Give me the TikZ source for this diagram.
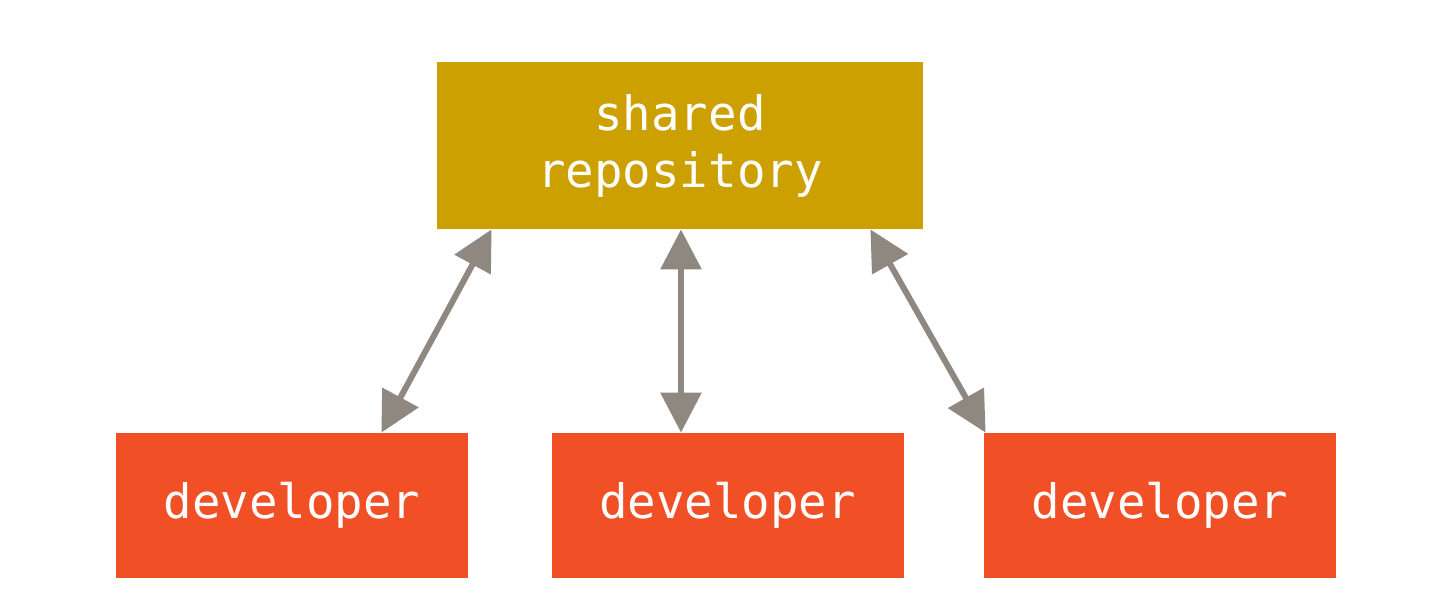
\documentclass[tikz,border=0pt]{standalone}
\usepackage{fontspec}
\setmonofont{DejaVu Sans Mono}
\usepackage{tikz}
\usepackage{xcolor}
\usetikzlibrary{arrows.meta}

\definecolor{repogold}{RGB}{204,160,0}
\definecolor{devorange}{RGB}{241,80,39}
\definecolor{linkgray}{RGB}{143,136,128}

\begin{document}
\begin{tikzpicture}[x=0.5pt, y=-0.5pt,
  box/.style={rectangle, inner sep=0pt, text=white, align=center,
    font=\ttfamily\fontsize{23.7pt}{28.5pt}\selectfont},
  repo/.style={box, fill=repogold, minimum width=243pt, minimum height=83.5pt},
  dev/.style={box, fill=devorange, minimum width=176pt, minimum height=72.5pt},
  link/.style={draw=linkgray, line width=3pt,
    {Triangle[length=20pt, width=20pt]}-{Triangle[length=20pt, width=20pt]}}]
\useasboundingbox (0,0) rectangle (1452,606);

\node[repo] (shared) at (680,145.5) {shared\\repository};

\node[dev] (devA) at (292,505.5) {developer};
\node[dev] (devB) at (727.5,505.5) {developer};
\node[dev] (devC) at (1160,505.5) {developer};

% push / pull between each developer and the shared repository
\draw[link] ([xshift=27.5pt]shared.south west) -- ([xshift=-43.5pt]devA.north east);
\draw[link] ([xshift=0.5pt]shared.south) -- ([xshift=0.5pt]shared.south |- devB.north);
\draw[link] ([xshift=-26.5pt]shared.south east) -- ([xshift=1pt]devC.north west);
\end{tikzpicture}
\end{document}
